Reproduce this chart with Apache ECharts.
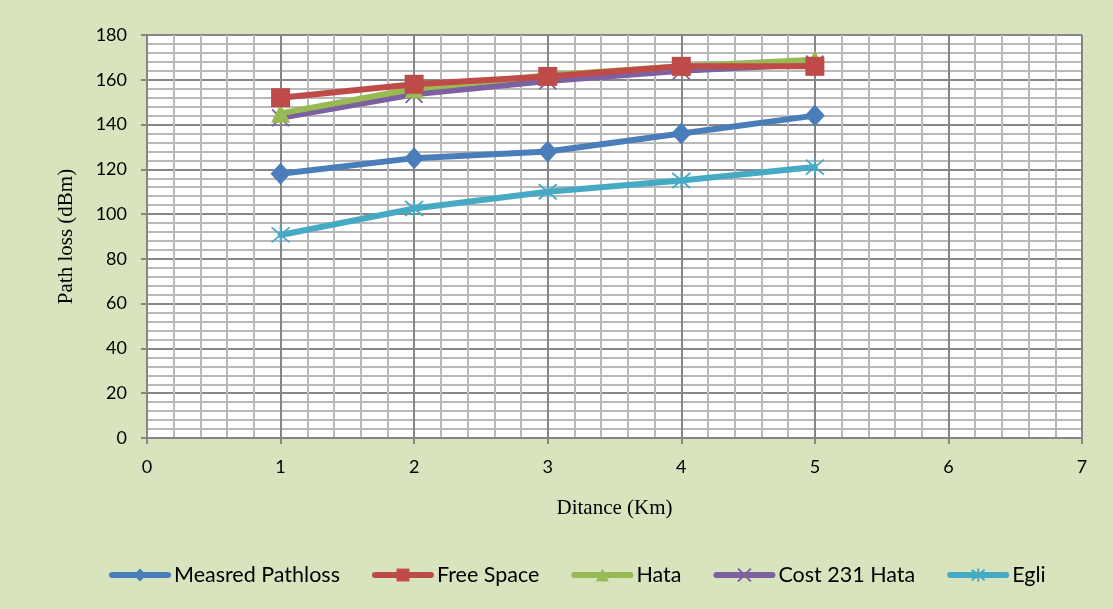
<!DOCTYPE html>
<html>
<head>
<meta charset="utf-8">
<script src="https://cdn.jsdelivr.net/npm/echarts@6/dist/echarts.min.js"></script>
<style>
  html, body { margin: 0; padding: 0; background: #D7E4BD; }
  #chart { width: 1113px; height: 609px; }
</style>
</head>
<body>
<div id="chart"></div>
<script>
// Distances (km) and path-loss values (dBm) per propagation model
const distances = [1, 2, 3, 4, 5];
const measured = [118, 125, 128, 136, 144];
const freeSpace = [152, 158, 161.5, 166, 166];
const hata = [145, 156, 162, 166, 169];
const cost231 = [143, 153.5, 159.5, 164, 167];
const egli = [90.7, 102.5, 110, 115, 121];

const seriesNames = ['Measred Pathloss', 'Free Space', 'Hata', 'Cost 231 Hata', 'Egli'];
const seriesValues = [measured, freeSpace, hata, cost231, egli];
const colors = ['#4A7EBB', '#BE4B48', '#98B954', '#7D60A0', '#46AAC5'];

const crossPath = 'path://M0 0L10 10M10 0L0 10';
const starPath = 'path://M0 0L10 10M10 0L0 10M5 -1L5 11';
const symbols = [
  { symbol: 'diamond', size: [20, 22], border: 0 },
  { symbol: 'rect', size: 19, border: 0 },
  { symbol: 'triangle', size: 19, border: 0 },
  { symbol: crossPath, size: 17, border: 1.8 },
  { symbol: starPath, size: 18, border: 1.8 }
];

const pairs = v => distances.map((d, i) => [d, v[i]]);

const series = seriesNames.map((name, k) => ({
  name,
  type: 'line',
  data: pairs(seriesValues[k]),
  symbol: symbols[k].symbol,
  symbolSize: symbols[k].size,
  showAllSymbol: true,
  lineStyle: { width: 6, color: colors[k], cap: 'round' },
  itemStyle: {
    color: colors[k],
    borderColor: colors[k],
    borderWidth: symbols[k].border
  },
  z: 10 - k
}));

const gridMajor = { color: '#868686', width: 2 };
const gridMinor = { color: '#b9b9b9', width: 2 };

const chart = echarts.init(document.getElementById('chart'), null, { renderer: 'canvas' });
chart.setOption({
  backgroundColor: '#D7E4BD',
  animation: false,
  color: colors,
  grid: { left: 147, right: 31, top: 35, bottom: 171, backgroundColor: '#ffffff', show: true, borderWidth: 0 },
  xAxis: {
    type: 'value',
    min: 0, max: 7, interval: 1,
    name: 'Ditance (Km)',
    nameLocation: 'middle',
    nameGap: 60,
    nameTextStyle: { fontFamily: 'Liberation Serif', fontSize: 21, color: '#000' },
    axisLine: { show: true, lineStyle: gridMajor },
    axisTick: { show: true, length: 6, lineStyle: gridMajor },
    axisLabel: { fontFamily: 'Lato', fontSize: 18, color: '#000', margin: 20 },
    splitLine: { show: true, lineStyle: gridMajor },
    minorTick: { show: false, splitNumber: 5 },
    minorSplitLine: { show: true, lineStyle: gridMinor }
  },
  yAxis: {
    type: 'value',
    min: 0, max: 180, interval: 20,
    name: 'Path loss (dBm)',
    nameLocation: 'middle',
    nameGap: 70,
    nameTextStyle: { fontFamily: 'Liberation Serif', fontSize: 21, color: '#000' },
    axisLine: { show: true, lineStyle: gridMajor },
    axisTick: { show: true, length: 6, lineStyle: gridMajor },
    axisLabel: { fontFamily: 'Lato', fontSize: 18, color: '#000', margin: 20 },
    splitLine: { show: true, lineStyle: gridMajor },
    minorTick: { show: false, splitNumber: 5 },
    minorSplitLine: { show: true, lineStyle: gridMinor }
  },
  legend: {
    bottom: 18,
    left: 104,
    itemWidth: 56,
    itemHeight: 16,
    itemGap: 32,
    lineStyle: { width: 6 },
    textStyle: { fontFamily: 'Lato', fontSize: 21.5, color: '#000', padding: [0, 0, 0, 1] },
    data: seriesNames
  },
  series
});
</script>
</body>
</html>
